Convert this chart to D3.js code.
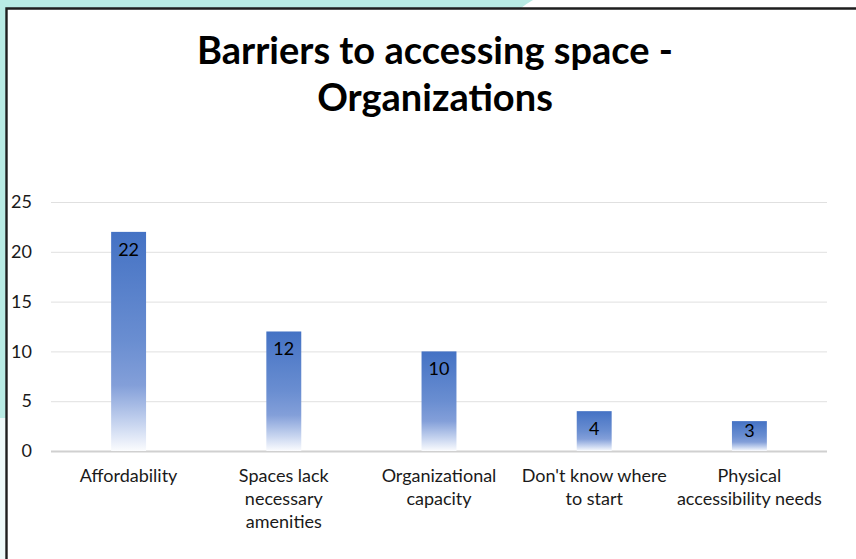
<!DOCTYPE html>
<html>
<head>
<meta charset="utf-8">
<script src="https://cdn.jsdelivr.net/npm/d3@7"></script>
<style>
  html, body { margin: 0; padding: 0; background: #fff; }
  svg { display: block; }
  text { font-family: "Lato", "Open Sans", sans-serif; }
</style>
</head>
<body>
<svg id="chart" width="856" height="559"></svg>
<script>
// Survey answers: barriers organizations face when accessing space
const categories = [
  "Affordability",
  "Spaces lack necessary amenities",
  "Organizational capacity",
  "Don't know where to start",
  "Physical accessibility needs"
];
// How each category label breaks over lines under the axis
const categoryLines = [
  ["Affordability"],
  ["Spaces lack", "necessary", "amenities"],
  ["Organizational", "capacity"],
  ["Don't know where", "to start"],
  ["Physical", "accessibility needs"]
];
const counts = [22, 12, 10, 4, 3];
const yTicks = [0, 5, 10, 15, 20, 25];
const titleLines = ["Barriers to accessing space -", "Organizations"];

const W = 856, H = 559;
const FONT = "Lato, 'Open Sans', sans-serif";
const svg = d3.select("#chart");

// Slide backdrop around the chart frame
svg.append("rect").attr("width", W).attr("height", H).attr("fill", "#ffffff");
svg.append("path")
  .attr("d", "M0,0 H533 Q526,4 521,8 H0 Z")
  .attr("fill", "#b8ebe4");
svg.append("rect").attr("x", 0).attr("y", 0).attr("width", 6).attr("height", 418).attr("fill", "#b8ebe4");
svg.append("rect").attr("x", 0).attr("y", 418).attr("width", 6).attr("height", H - 418).attr("fill", "#eef9f9");

// Chart frame
svg.append("path")
  .attr("d", `M${W + 5},8.5 H6.5 V${H + 5}`)
  .attr("fill", "none").attr("stroke", "#1e1e1e").attr("stroke-width", 2.4);

// Title
const title = svg.append("text")
  .attr("text-anchor", "middle")
  .attr("font-weight", 700)
  .attr("font-size", 38)
  .attr("fill", "#000");
titleLines.forEach((t, i) => {
  title.append("tspan").attr("x", 435).attr("y", 64 + i * 47).text(t);
});

// Plot area
const plot = { left: 51, right: 827, top: 202, bottom: 451 };

const x = d3.scaleBand()
  .domain(categories)
  .range([plot.left, plot.right])
  .paddingInner(0.775)
  .paddingOuter(0.3875);

const y = d3.scaleLinear()
  .domain([0, 25])
  .range([plot.bottom, plot.top]);

// Gridlines and value axis labels
const yAxis = d3.axisLeft(y).tickValues(yTicks).tickSize(-(plot.right - plot.left)).tickPadding(19);
const gy = svg.append("g")
  .attr("transform", `translate(${plot.left},0)`)
  .call(yAxis);
gy.select(".domain").remove();
gy.selectAll(".tick line")
  .attr("stroke", d => d === 0 ? "#d0d0d0" : "#e0e0e0")
  .attr("stroke-width", d => d === 0 ? 2 : 1);
gy.selectAll(".tick text")
  .attr("font-size", 18)
  .attr("fill", "#1a1a1a")
  .attr("font-family", FONT);

// Bar fill: blue at the top fading to white at the base
const defs = svg.append("defs");
const grad = defs.append("linearGradient")
  .attr("id", "barFade")
  .attr("x1", 0).attr("y1", 0).attr("x2", 0).attr("y2", 1);
[
  [0, "#4472c4"],
  [0.5, "#6a8ed1"],
  [0.7, "#839fd9"],
  [0.88, "#c9d6f0"],
  [1, "#fbfcfe"]
].forEach(([o, c]) => grad.append("stop").attr("offset", o).attr("stop-color", c));

const data = categories.map((c, i) => ({ cat: c, value: counts[i], lines: categoryLines[i] }));

svg.append("g").selectAll("rect")
  .data(data)
  .join("rect")
  .attr("x", d => x(d.cat))
  .attr("y", d => y(d.value))
  .attr("width", x.bandwidth())
  .attr("height", d => y(0) - y(d.value))
  .attr("fill", "url(#barFade)");

// Value labels inside the top of each bar, kept clear of the baseline
svg.append("g").selectAll("text")
  .data(data)
  .join("text")
  .attr("x", d => x(d.cat) + x.bandwidth() / 2)
  .attr("y", d => Math.min(y(d.value) + 24, y(0) - 14))
  .attr("text-anchor", "middle")
  .attr("font-size", 18)
  .attr("fill", "#000")
  .text(d => d.value);

// Category labels
const xl = svg.append("g").selectAll("text")
  .data(data)
  .join("text")
  .attr("text-anchor", "middle")
  .attr("font-size", 18)
  .attr("fill", "#1a1a1a");
xl.each(function (d) {
  const t = d3.select(this);
  d.lines.forEach((line, i) => {
    t.append("tspan")
      .attr("x", x(d.cat) + x.bandwidth() / 2)
      .attr("y", 482 + i * 23)
      .text(line);
  });
});
</script>
</body>
</html>
